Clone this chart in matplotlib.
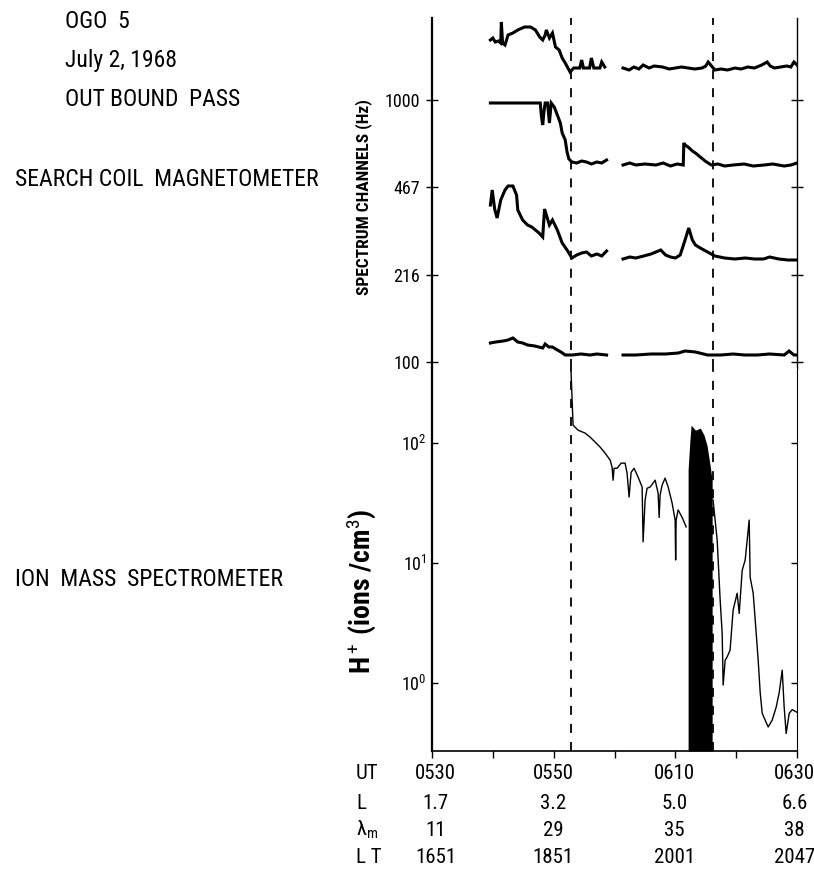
import matplotlib
matplotlib.use("Agg")
import matplotlib.pyplot as plt
from matplotlib import font_manager, transforms
import numpy as np

# ---- fonts: pick the narrowest lettering that is installed
fonts = font_manager.fontManager.ttflist
names = {f.name for f in fonts}
shrink = 1.0
if "Roboto Condensed" in names:
    narrow = "Roboto Condensed"
elif "Liberation Sans Narrow" in names:
    narrow = "Liberation Sans Narrow"
else:
    narrow = "Roboto"
    shrink = 0.86
plt.rcParams["font.family"] = [narrow, "DejaVu Sans"]
plt.rcParams["mathtext.fontset"] = "custom"
plt.rcParams["mathtext.rm"] = narrow
plt.rcParams["mathtext.it"] = narrow + ":italic"
plt.rcParams["mathtext.bf"] = narrow + ":bold"

nan = np.nan

# ---- search coil spectrum channels (minutes after 0530 UT, deflection above channel tick)
channels = ["1000", "467", "216", "100"]

t_1000 = [9.6, 10.0, 10.4, 10.9, 11.3, 11.4, 11.6, 12.0, 12.5, 13.3, 14.1, 15.2, 16.2, 17.0, 17.7,
          18.2, 18.6, 18.8, 19.3, 19.8, 20.3, 20.9, 21.4, 21.9, 22.7, 23.3, 24.3, 24.6, 24.9, 25.9,
          26.2, 26.6, 27.6, 27.9, 28.4, nan,
          31.4, 32.4, 33.2, 34.0, 34.7, 35.7, 36.5, 37.9, 39.0, 40.0, 41.0, 42.1, 43.2, 44.4, 45.0,
          45.4, 46.5, 47.5, 48.6, 49.8, 50.8, 51.9, 53.0, 54.2, 55.1, 55.6, 56.3, 57.3, 58.3, 59.0,
          59.5, 60.0]
v_1000 = [60, 62, 58, 59, 57, 78, 57, 55, 65, 67, 70, 73, 73, 70, 63,
          60, 65, 70, 62, 67, 53, 50, 42, 37, 28, 32, 32, 40, 32, 32,
          42, 32, 32, 38, 33, nan,
          32, 30, 33, 31, 35, 32, 34, 33, 31, 32, 33, 32, 31, 32, 34,
          38, 30, 31, 30, 32, 31, 33, 32, 35, 38, 34, 32, 33, 34, 33,
          38, 35]

t_467 = [9.6, 11.0, 12.5, 14.0, 15.7, 17.3, 17.8, 18.0, 18.2, 18.4, 18.6, 19.0, 19.3, 19.6, 20.1,
         20.6, 21.1, 21.4, 21.9, 22.2, 22.5, 23.0, 23.8, 24.6, 25.4, 26.2, 27.1, 27.9, 28.7, nan,
         31.4, 32.5, 33.5, 35.0, 36.8, 38.0, 39.2, 40.3, 41.3, 41.4, 41.6, 42.1, 42.8, 43.3, 44.1,
         44.9, 45.9, 47.0, 48.1, 49.5, 51.3, 52.8, 54.6, 56.0, 57.9, 59.0, 60.0]
v_467 = [84, 84, 84, 84, 84, 84, 84, 70, 62, 75, 84, 84, 64, 84, 80,
         72, 64, 54, 47, 35, 28, 25, 24, 26, 25, 23, 25, 24, 27, nan,
         22, 24, 22, 23, 22, 24, 21, 23, 22, 44, 42, 40, 36, 34, 30,
         26, 22, 23, 21, 22, 23, 21, 22, 23, 21, 22, 24]

t_216 = [9.6, 9.9, 10.3, 10.7, 11.3, 12.0, 12.5, 13.3, 13.9, 14.1, 14.9, 15.7, 16.4, 17.0, 17.6,
         18.2, 18.5, 19.3, 19.8, 20.6, 21.4, 22.2, 23.0, 23.8, 24.6, 25.4, 26.2, 27.1, 27.9, 28.7, nan,
         31.4, 32.5, 33.5, 34.8, 36.0, 37.6, 38.4, 39.2, 40.0, 40.8, 41.6, 42.2, 42.8, 43.3, 44.1,
         45.3, 46.5, 48.1, 49.8, 51.5, 53.0, 54.5, 55.5, 57.0, 58.5, 60.0]
v_216 = [70, 85, 66, 57, 75, 85, 89, 89, 80, 65, 55, 50, 48, 45, 42,
         38, 66, 50, 55, 45, 32, 25, 17, 20, 22, 23, 19, 21, 19, 24, nan,
         16, 18, 17, 19, 21, 25, 20, 18, 17, 20, 35, 47, 35, 30, 27,
         23, 19, 17, 16, 17, 16, 16, 18, 16, 15, 15]

t_100 = [9.6, 10.5, 11.7, 12.5, 13.3, 14.1, 14.9, 15.7, 16.9, 18.2, 18.6, 19.2, 19.8, 20.6, 21.2,
         21.9, 23.0, 24.5, 26.0, 27.1, 28.7, nan,
         31.4, 33.5, 36.0, 38.4, 40.5, 41.6, 43.3, 45.3, 47.5, 49.5, 51.4, 53.5, 55.5, 57.9, 58.7,
         59.5, 60.0]
v_100 = [19, 20, 21, 22, 24, 20, 19, 17, 16, 14, 18, 15, 15, 12, 10,
         7, 7, 8, 7, 8, 7, nan,
         7, 7, 8, 8, 9, 11, 10, 7, 7, 8, 7, 7, 8, 7, 11,
         7, 7]

# ---- ion mass spectrometer H+ density (ions/cm^3)
h_t = [22.86, 23.03, 23.19, 24.01, 25.16, 25.99, 26.81, 27.63, 28.45, 29.28,
       29.6, 29.77, 29.93, 30.43, 31.09, 31.74, 32.07, 32.4, 32.73, 33.22,
       33.88, 34.54, 34.70, 35.03, 35.36, 35.86, 36.68, 37.17, 37.34, 37.5,
       37.83, 38.32, 38.82, 39.47, 39.97, 40.05, 40.13, 40.46, 41.12, 41.78]
h_v = [390, 228, 141, 128, 121, 112, 102, 92.6, 82.5, 72.1,
       63, 49, 61.6, 61.6, 68, 68, 56, 35.5, 57, 61.6,
       52, 43, 15, 33.5, 42, 43, 49, 38.3, 24, 36.9,
       44.7, 51, 43, 31.6, 22.8, 10.6, 22.8, 27.7, 24, 20]

# rapidly varying interval drawn as a solid band (upper envelope)
band_t = [42.1, 42.4, 42.6, 43.3, 44.1, 44.7, 45.2, 45.7, 46.05]
band_top = [60, 106, 141, 128, 133, 117, 96, 66, 49]

h2_t = [46.2, 46.88, 47.37, 47.70, 47.86, 48.19, 48.52, 49.0, 49.5, 50.16,
        50.5, 50.99, 51.48, 52.14, 52.30, 52.80, 53.13, 53.62, 53.95, 54.28,
        54.77, 55.26, 55.92, 56.58, 57.07, 57.57, 57.89, 58.22, 58.72, 59.21, 60.0]
h2_v = [33.5, 15.5, 4.9, 2.6, 0.96, 1.55, 1.65, 1.88, 4.06, 5.6,
        3.8, 8.7, 10.6, 22.8, 7.6, 5.6, 3.35, 1.55, 0.83, 0.56,
        0.49, 0.43, 0.49, 0.63, 0.83, 1.28, 0.63, 0.38, 0.56, 0.6, 0.57]

boundaries = [22.85, 46.2]  # dashed vertical lines

# ---- bottom annotation rows
label_t = [0.6, 19.9, 39.8, 59.6]
row_names = ["UT", "L", r"λ$_\mathrm{m}$", "L T"]
ut_labels = ["0530", "0550", "0610", "0630"]
l_labels = ["1.7", "3.2", "5.0", "6.6"]
lam_labels = ["11", "29", "35", "38"]
lt_labels = ["1651", "1851", "2001", "2047"]

W, H = 814, 880
fig = plt.figure(figsize=(W / 100, H / 100), dpi=100)

x0, x1 = 432 / W, 797 / W
y_mid = 1 - 368 / H
ax1 = fig.add_axes([x0, y_mid, x1 - x0, (1 - 18 / H) - y_mid])
ax2 = fig.add_axes([x0, 1 - 751 / H, x1 - x0, y_mid - (1 - 751 / H)])

# top panel: each channel drawn above its own tick
base = [268, 181, 93, 6]
for b, tt, vv in zip(base, [t_1000, t_467, t_216, t_100], [v_1000, v_467, v_216, v_100]):
    ax1.plot(tt, b + np.array(vv, dtype=float), color="black", lw=2.2, solid_joinstyle="miter")

ax1.set_xlim(0, 60)
ax1.set_ylim(0, 350)
ax1.set_yticks(base)
ax1.set_yticklabels(channels, fontsize=13 * shrink)
ax1.set_xticks([])
ax1.spines["top"].set_visible(False)
ax1.spines["bottom"].set_visible(False)
ax1.spines["left"].set_linewidth(1.6)
ax1.spines["right"].set_linewidth(1.0)
ax1.tick_params(axis="y", left=True, right=True, direction="inout", length=9, width=1.0, pad=4)
ax1.set_ylabel("SPECTRUM CHANNELS (Hz)", fontsize=12.5 * shrink, fontweight="bold")
ax1.yaxis.set_label_coords((372 - 432) / 365, (368 - 197) / 350)

# bottom panel
ax2.semilogy(h_t, h_v, color="black", lw=1.0)
ax2.semilogy(h2_t, h2_v, color="black", lw=1.0)
ax2.fill_between(band_t, band_top, 0.2713, color="black", lw=0)
ax2.set_xlim(0, 60)
ax2.set_ylim(0.2713, 422)
ax2.set_yticks([1, 10, 100])
ax2.set_yticklabels([r"$10^0$", r"$10^1$", r"$10^2$"], fontsize=13 * shrink)
ax2.minorticks_off()
ax2.set_xticks([0, 10, 20, 30, 40, 50, 60])
ax2.set_xticklabels([])
ax2.tick_params(axis="x", direction="out", length=5, width=1.0)
ax2.tick_params(axis="y", left=True, right=True, direction="in", length=4, width=1.0, pad=4)
ax2.spines["top"].set_visible(False)
ax2.spines["left"].set_linewidth(1.6)
ax2.spines["bottom"].set_linewidth(1.2)
ax2.spines["right"].set_linewidth(0.8)
ax2.set_ylabel(r"H$^+$ (ions /cm$^3$)", fontsize=20 * shrink, fontweight="bold")
ax2.yaxis.set_label_coords((378 - 432) / 365, (751 - 592) / 383)

for ax in (ax1, ax2):
    for tb in boundaries:
        ax.axvline(tb, color="black", lw=1.3, linestyle=(0, (5, 5)))

# annotation rows under the time axis
trans = transforms.blended_transform_factory(ax2.transData, fig.transFigure)
row_y = [773, 803, 830, 857]
for ry, name, labels in zip(row_y, row_names, [ut_labels, l_labels, lam_labels, lt_labels]):
    fig.text(356 / W, 1 - ry / H, name, ha="left", va="center", fontsize=15 * shrink)
    for t, s in zip(label_t, labels):
        ax2.text(t, 1 - ry / H, s, transform=trans, ha="center", va="center", fontsize=15 * shrink)

# left-hand captions
cap = 17 * shrink
fig.text(65 / W, 1 - 21 / H, "OGO  5", ha="left", va="center", fontsize=cap)
fig.text(65 / W, 1 - 61 / H, "July 2, 1968", ha="left", va="center", fontsize=cap)
fig.text(65 / W, 1 - 99 / H, "OUT BOUND  PASS", ha="left", va="center", fontsize=cap)
fig.text(15 / W, 1 - 179 / H, "SEARCH COIL  MAGNETOMETER", ha="left", va="center", fontsize=cap)
fig.text(15 / W, 1 - 580 / H, "ION  MASS  SPECTROMETER", ha="left", va="center", fontsize=cap)

fig.savefig("out.png", dpi=100, facecolor="white")
